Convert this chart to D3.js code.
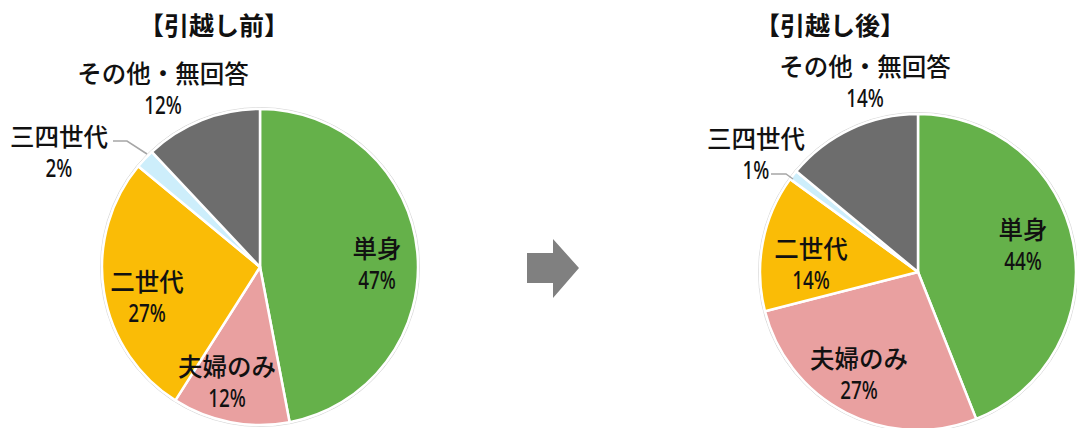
<!DOCTYPE html>
<html><head><meta charset="utf-8">
<script src="https://cdn.jsdelivr.net/npm/d3@7"></script>
<style>
html,body{margin:0;padding:0;background:#fff;}
svg{display:block;}
.jp{font-family:"Noto Sans CJK JP","Noto Sans",sans-serif;}
.num{font-family:"Noto Sans","Roboto",sans-serif;}
</style></head>
<body>
<svg id="chart" width="1077" height="428"></svg>
<script>
// ---- data ----
const categories = ["単身", "夫婦のみ", "二世代", "三四世代", "その他・無回答"];
const beforeValues = [47, 12, 27, 2, 12];
const afterValues  = [44, 27, 14, 1, 14];
const titles = ["【引越し前】", "【引越し後】"];
const colors = ["#65B14A", "#E9A0A0", "#FABC06", "#CDEEFB", "#6D6D6D"];

// ---- layout (not data) ----
const pies = [
  {values: beforeValues, title: titles[0], cx: 260, cy: 267, r: 158, tx: 214, ty: 24,
   labels: [[117,-20],[-33,98],[-113,13],[-201,-132],[-97,-195]],
   leader: [[113,141],[127,141],[147,154]]},
  {values: afterValues, title: titles[1], cx: 918, cy: 272, r: 158, tx: 830, ty: 24,
   labels: [[105,-44],[-59,85],[-107,-25],[-162,-135],[-53,-207]],
   leader: [[771,174],[786,174],[793,179]]}
];

const svg = d3.select("#chart");
const pie = d3.pie().sort(null).value(d => d);

pies.forEach(p => {
  const g = svg.append("g").attr("transform", `translate(${p.cx},${p.cy})`);
  const arc = d3.arc().innerRadius(0).outerRadius(p.r);
  g.append("circle").attr("r", p.r + 1.5).attr("fill", "none")
    .attr("stroke", "#d9d9d9").attr("stroke-width", 1);
  g.selectAll("path.slice").data(pie(p.values)).join("path")
    .attr("class", "slice")
    .attr("d", arc)
    .attr("fill", (d, i) => colors[i])
    .attr("stroke", "#fff").attr("stroke-width", 2.5).attr("stroke-linejoin", "round");

  svg.append("text").attr("class", "jp")
    .attr("x", p.tx).attr("y", p.ty).attr("text-anchor", "middle")
    .attr("dominant-baseline", "central")
    .attr("font-size", 25).attr("font-weight", 700).attr("fill", "#111")
    .text(p.title);

  svg.append("path").attr("d", d3.line()(p.leader))
    .attr("fill", "none").attr("stroke", "#a6a6a6").attr("stroke-width", 1.5);

  categories.forEach((c, i) => {
    const [dx, dy] = p.labels[i];
    const x = p.cx + dx, y = p.cy + dy;
    svg.append("text").attr("class", "jp")
      .attr("x", x).attr("y", y).attr("text-anchor", "middle")
      .attr("dominant-baseline", "central")
      .attr("font-size", 24.5).attr("font-weight", 500).attr("fill", "#111")
      .text(c);
    svg.append("text").attr("class", "num")
      .attr("transform", `translate(${x},${y + 32}) scale(0.74,1)`)
      .attr("text-anchor", "middle")
      .attr("dominant-baseline", "central")
      .attr("font-size", 25.5).attr("font-weight", 500).attr("fill", "#111")
      .text(p.values[i] + "%");
  });
});

const arrowPts = [[527,253],[553,253],[553,239],[579,268],[553,298],[553,283],[527,283]];
svg.append("path").attr("d", d3.line()(arrowPts) + "Z").attr("fill", "#808080");
</script>
</body></html>
